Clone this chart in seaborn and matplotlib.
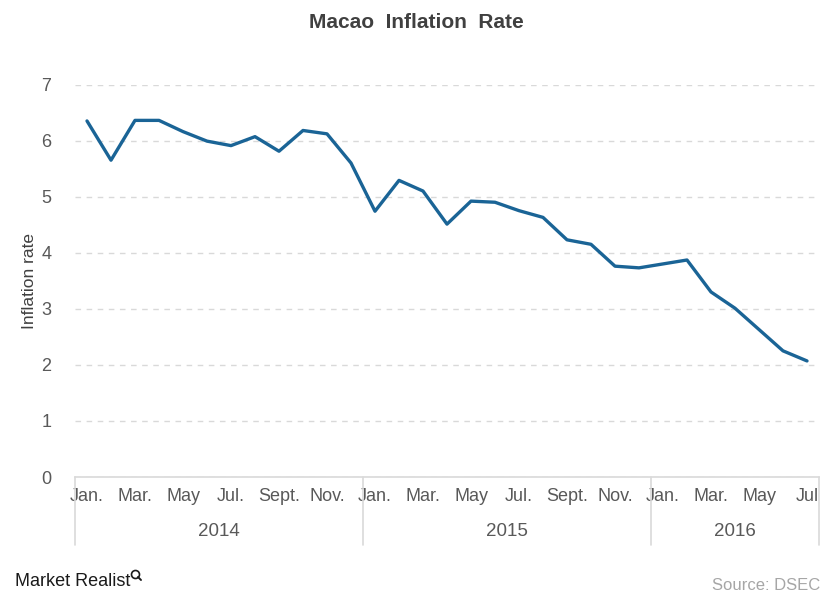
import matplotlib
matplotlib.use("Agg")
import matplotlib.pyplot as plt
import matplotlib.transforms as mtransforms
from matplotlib.patches import Circle
import pandas as pd
import seaborn as sns

# monthly inflation rate, Jan 2014 - Jul 2016
years = [2014] * 12 + [2015] * 12 + [2016] * 7
months = list(range(1, 13)) * 2 + list(range(1, 8))
inflation = [6.35, 5.65, 6.36, 6.36, 6.16, 5.99, 5.91, 6.07, 5.81, 6.18, 6.12, 5.60,
             4.74, 5.29, 5.10, 4.51, 4.92, 4.90, 4.75, 4.63, 4.23, 4.15, 3.76, 3.73,
             3.80, 3.87, 3.30, 3.01, 2.63, 2.25, 2.07]
month_labels = ["Jan.", "Mar.", "May", "Jul.", "Sept.", "Nov."] * 2 + ["Jan.", "Mar.", "May", "Jul"]
year_labels = ["2014", "2015", "2016"]

df = pd.DataFrame({"year": years, "month": months, "rate": inflation})
df["idx"] = range(len(df))

sns.set_theme(style="white")
plt.rcParams["font.family"] = ["Liberation Sans", "DejaVu Sans"]

fig = plt.figure(figsize=(8.32, 6.01), dpi=100)
ax = fig.add_axes([75 / 832, 1 - 477 / 601, 744 / 832, 392.5 / 601])

sns.lineplot(data=df, x="idx", y="rate", ax=ax, color="#1a6496", linewidth=2.4)

ax.set_xlim(-0.5, len(df) - 0.5)
ax.set_ylim(0, 7)
ax.set_yticks(range(0, 8))
ax.set_xticks(range(0, len(df), 2))
ax.set_xticklabels(month_labels)
ax.tick_params(axis="x", length=0, pad=8, labelsize=13, colors="#595959")
ax.tick_params(axis="y", length=0, pad=17, labelsize=13, colors="#595959")
ax.set_xlabel("")
ax.set_ylabel("Inflation rate", fontsize=12.5, color="#404040", labelpad=3)

ax.yaxis.grid(True, linestyle=(0, (4, 4)), color="#d9d9d9", linewidth=1)
ax.xaxis.grid(False)
for s in ["top", "right", "left"]:
    ax.spines[s].set_visible(False)
ax.spines["bottom"].set_color("#d9d9d9")
ax.spines["bottom"].set_linewidth(1.2)

# year group axis
trans = mtransforms.blended_transform_factory(ax.transData, ax.transAxes)
for xb in [-0.5, 11.5, 23.5, len(df) - 0.5]:
    ax.plot([xb, xb], [0, -0.172], transform=trans, color="#d9d9d9", lw=1.2, clip_on=False)
for lab in year_labels:
    sub = df[df["year"] == int(lab)]["idx"]
    ax.text((sub.min() + sub.max()) / 2, -0.14, lab, transform=trans, ha="center", va="center",
            fontsize=13.5, color="#595959")

fig.text(0.5, 1 - 23 / 601, "Macao  Inflation  Rate", ha="center", va="center",
         fontsize=15, fontweight="bold", color="#404040",
         family=["Liberation Sans Narrow", "Liberation Sans", "DejaVu Sans"])
fig.text(15 / 832, 1 - 581 / 601, "Market Realist", ha="left", va="center", fontsize=13,
         color="#1a1a1a", family=["Liberation Sans Narrow", "Liberation Sans", "DejaVu Sans"])
fig.add_artist(Circle((1.355, 6.01 - 5.745), 0.04, transform=fig.dpi_scale_trans,
                      fill=False, ec="#1a1a1a", lw=1.2))
fig.add_artist(plt.Line2D([1.38, 1.41], [6.01 - 5.77, 6.01 - 5.80], transform=fig.dpi_scale_trans,
                          color="#1a1a1a", lw=1.4))
fig.text(820 / 832, 1 - 585 / 601, "Source: DSEC", ha="right", va="center", fontsize=12,
         color="#a6a6a6")

fig.savefig("out.png", dpi=100)
